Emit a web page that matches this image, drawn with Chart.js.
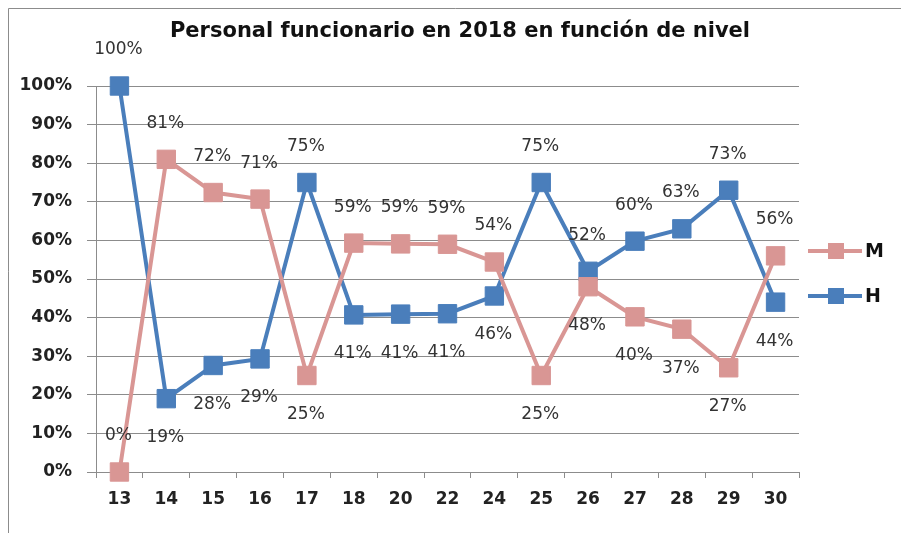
<!DOCTYPE html>
<html>
<head>
<meta charset="utf-8">
<script src="https://cdn.jsdelivr.net/npm/chart.js@4/dist/chart.umd.min.js"></script>
<style>
  html, body { margin: 0; padding: 0; background: #fff; }
  #wrap { width: 901px; height: 533px; position: relative; }
</style>
</head>
<body>
<div id="wrap"><canvas id="c"></canvas></div>
<script>
/* ===== DATA ===== */
const TITLE = "Personal funcionario en 2018 en función de nivel";
const NIVELES = ["13", "14", "15", "16", "17", "18", "20", "22", "24", "25", "26", "27", "28", "29", "30"];
const M_VALUES = [0, 81, 72.4, 70.7, 25, 59.3, 59.1, 59, 54.4, 25, 48, 40.2, 37, 27, 56];
const H_VALUES = [100, 19, 27.6, 29.3, 75, 40.7, 40.9, 41, 45.6, 75, 52, 59.8, 63, 73, 44];
const Y_TICKS = [0, 10, 20, 30, 40, 50, 60, 70, 80, 90, 100];
/* ================ */

const PINK = "#D99694";
const BLUE = "#4A7EBB";
const FONT = "'DejaVu Sans', sans-serif";
const TEXT = "#333";

// frame, white background and title (title sits off-centre like the excel original)
const framePlugin = {
  id: "frame",
  beforeDraw(chart) {
    const ctx = chart.ctx;
    ctx.save();
    ctx.fillStyle = "#fff";
    ctx.fillRect(0, 0, chart.width, chart.height);
    ctx.strokeStyle = "#8c8c8c";
    ctx.lineWidth = 1;
    ctx.beginPath();
    ctx.moveTo(8.5, chart.height + 5);
    ctx.lineTo(8.5, 8.5);
    ctx.lineTo(chart.width + 5, 8.5);
    ctx.stroke();
    ctx.fillStyle = "#111";
    ctx.font = "bold 21px " + FONT;
    ctx.textAlign = "center";
    ctx.textBaseline = "middle";
    ctx.fillText(TITLE, 460, 32);
    ctx.restore();
  }
};

// value labels: higher value above its point, lower one below
const labelPlugin = {
  id: "vals",
  afterDatasetsDraw(chart) {
    const ctx = chart.ctx;
    ctx.save();
    ctx.font = "17px " + FONT;
    ctx.fillStyle = TEXT;
    ctx.textAlign = "center";
    ctx.textBaseline = "middle";
    chart.data.datasets.forEach((ds, di) => {
      const other = chart.data.datasets[1 - di].data;
      const meta = chart.getDatasetMeta(di);
      meta.data.forEach((pt, i) => {
        const v = ds.data[i];
        const above = v >= other[i] || v === 0;
        const y = above ? pt.y - 36 : pt.y + 39;
        ctx.fillText(Math.round(v) + "%", pt.x - 1, y);
      });
    });
    ctx.restore();
  }
};

// excel-like legend: line with square marker
const legendPlugin = {
  id: "xlLegend",
  afterDraw(chart) {
    const ctx = chart.ctx;
    const rows = [251, 296];
    ctx.save();
    chart.data.datasets.forEach((ds, i) => {
      const y = rows[i];
      ctx.strokeStyle = ds.borderColor;
      ctx.lineWidth = 4;
      ctx.beginPath();
      ctx.moveTo(808, y);
      ctx.lineTo(862, y);
      ctx.stroke();
      ctx.fillStyle = ds.borderColor;
      ctx.fillRect(828, y - 8, 16, 16);
      ctx.fillStyle = "#111";
      ctx.font = "bold 19px " + FONT;
      ctx.textAlign = "left";
      ctx.textBaseline = "middle";
      ctx.fillText(ds.label, 865, y + 1);
    });
    ctx.restore();
  }
};

new Chart(document.getElementById("c"), {
  type: "line",
  data: {
    labels: NIVELES,
    datasets: [
      {
        label: "M",
        data: M_VALUES,
        borderColor: PINK,
        backgroundColor: PINK,
        borderWidth: 4,
        pointStyle: "rect",
        pointRadius: 13,
        pointBorderWidth: 1,
        pointHoverRadius: 13,
        tension: 0,
        clip: false
      },
      {
        label: "H",
        data: H_VALUES,
        borderColor: BLUE,
        backgroundColor: BLUE,
        borderWidth: 4,
        pointStyle: "rect",
        pointRadius: 13,
        pointBorderWidth: 1,
        pointHoverRadius: 13,
        tension: 0,
        clip: false
      }
    ]
  },
  options: {
    responsive: true,
    maintainAspectRatio: false,
    animation: false,
    events: [],
    layout: { padding: { left: 8, right: 102, top: 86, bottom: 0 } },
    plugins: {
      legend: { display: false },
      tooltip: { enabled: false },
      title: { display: false }
    },
    scales: {
      x: {
        offset: true,
        grid: {
          display: true,
          offset: true,
          drawOnChartArea: false,
          tickLength: 6,
          color: "#8c8c8c"
        },
        border: { display: true, color: "#8c8c8c" },
        ticks: {
          color: "#222",
          font: { family: FONT, size: 17, weight: "bold" },
          padding: 11,
          maxRotation: 0,
          autoSkip: false
        },
        afterFit(s) { s.height = 61; }
      },
      y: {
        min: 0,
        max: 100,
        afterBuildTicks(s) { s.ticks = Y_TICKS.map((v) => ({ value: v })); },
        grid: {
          color: "#8c8c8c",
          tickLength: 9
        },
        border: { display: true, color: "#8c8c8c" },
        ticks: {
          color: "#222",
          font: { family: FONT, size: 17, weight: "bold" },
          padding: 15,
          callback: (v) => v + "%"
        },
        afterFit(s) { s.width = 88; }
      }
    }
  },
  plugins: [framePlugin, labelPlugin, legendPlugin]
});
</script>
</body>
</html>
